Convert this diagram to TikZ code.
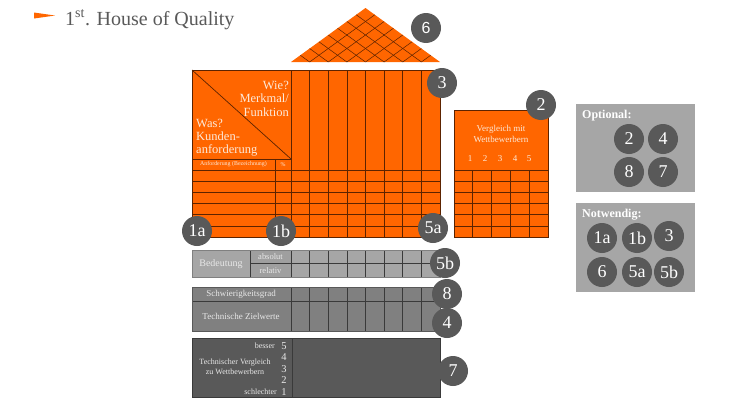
\documentclass[tikz,border=0pt]{standalone}
\usepackage{fontspec}
\setmainfont{Liberation Serif}
\newfontfamily\sansf{Liberation Sans}
\usetikzlibrary{calc}
\definecolor{hoqorange}{HTML}{FF6600}
\definecolor{hoqline}{HTML}{5C2300}
\definecolor{hoqtext}{HTML}{FDE9D9}
\definecolor{dgray}{HTML}{595959}
\definecolor{mgray}{HTML}{808080}
\definecolor{lgray}{HTML}{A6A6A6}
\definecolor{ggline}{HTML}{3A3A3A}
\definecolor{gtext}{HTML}{E8E8E8}
\begin{document}
\begin{tikzpicture}[x=1pt,y=-1pt,
  num/.style={circle, fill=dgray, text=white, minimum size=30pt, inner sep=0pt, font=\fontsize{18}{18}\selectfont},
  oline/.style={draw=hoqline, line width=0.7pt},
  gline/.style={draw=ggline, line width=0.6pt},
  otxt/.style={text=hoqtext, inner sep=0pt},
  gtx/.style={text=gtext, inner sep=0pt}]
\useasboundingbox (0,0) rectangle (750,415);

% title
\fill[hoqorange] (34,12.5) -- (55,15.5) -- (34,18.5) -- cycle;
\node[anchor=base west, inner sep=0pt, text=dgray, font=\fontsize{20}{20}\selectfont] (title) at (65,25) {1\textsuperscript{st}. House of Quality};

% roof
\coordinate (RA) at (291,62);
\coordinate (RB) at (440,62);
\coordinate (RC) at (365.5,8);
\fill[hoqorange] (RA) -- (RB) -- (RC) -- cycle;
\foreach \k in {1,...,7}{
  \pgfmathsetmacro\fa{\k/8}
  \pgfmathsetmacro\fb{(8-\k)/8}
  \draw[oline, line width=0.5pt] ($(RA)!\fa!(RB)$) -- ($(RB)!\fb!(RC)$);
  \draw[oline, line width=0.5pt] ($(RA)!\fa!(RB)$) -- ($(RA)!\fa!(RC)$);
}

% main block
\fill[hoqorange] (192,70) rectangle (440,237);
\foreach \k in {0,...,7}{
  \draw[oline] ({291+18.625*\k},70) -- ({291+18.625*\k},237);
}
\foreach \k in {0,...,5}{
  \draw[oline] (192,{170+11.17*\k}) -- (440,{170+11.17*\k});
}
\draw[oline] (192,159) -- (291,159);
\draw[oline] (275,159) -- (275,237);
\draw[oline] (192,70) -- (291,159);
\draw[oline] (192,70) rectangle (440,237);

\node[otxt, anchor=base east, font=\fontsize{12.5}{13}\selectfont] (wie1) at (289,89.5) {Wie?};
\node[otxt, anchor=base east, font=\fontsize{12.5}{13}\selectfont] (wie2) at (289,102.5) {Merkmal/};
\node[otxt, anchor=base east, font=\fontsize{12.5}{13}\selectfont] (wie3) at (289,116) {Funktion};
\node[otxt, anchor=base west, font=\fontsize{12.5}{13}\selectfont] (was1) at (196,127.5) {Was?};
\node[otxt, anchor=base west, font=\fontsize{12.5}{13}\selectfont] (was2) at (196,140.5) {Kunden-};
\node[otxt, anchor=base west, font=\fontsize{12.5}{13}\selectfont] (was3) at (196,153.5) {anforderung};
\node[otxt, font=\fontsize{5.9}{6}\selectfont] (anf) at (233.5,164.5) {Anforderung (Bezeichnung)};
\node[otxt, font=\fontsize{5.9}{6}\selectfont] (pct) at (283,164.5) {\%};

% comparison block
\fill[hoqorange] (454,110) rectangle (548,237);
\foreach \k in {1,...,4}{
  \draw[oline] ({454+18.8*\k},170) -- ({454+18.8*\k},237);
}
\foreach \k in {0,...,5}{
  \draw[oline] (454,{170+11.17*\k}) -- (548,{170+11.17*\k});
}
\draw[oline] (454,110) rectangle (548,237);
\node[otxt, font=\fontsize{9}{9}\selectfont] (vgl1) at (501,129) {Vergleich mit};
\node[otxt, font=\fontsize{9}{9}\selectfont] (vgl2) at (501,139.5) {Wettbewerbern};
\foreach \n/\x in {1/470,2/485,3/500,4/515,5/529}{
  \node[otxt, font=\fontsize{9}{9}\selectfont] (v\n) at (\x,159) {\n};
}

% Bedeutung block
\fill[lgray] (192,250) rectangle (440,277);
\fill[gray!75] (250,250) rectangle (291,277);
\draw[gline] (250,250) -- (250,277);
\draw[gline] (250,263.5) -- (440,263.5);
\foreach \k in {0,...,7}{
  \draw[gline] ({291+18.625*\k},250) -- ({291+18.625*\k},277);
}
\draw[draw=mgray, line width=0.7pt] (192,250) rectangle (440,277);
\node[gtx, font=\fontsize{10}{10}\selectfont] (bed) at (221,264) {Bedeutung};
\node[gtx, font=\fontsize{8.5}{9}\selectfont] (abs) at (270.5,257) {absolut};
\node[gtx, font=\fontsize{8.5}{9}\selectfont] (rel) at (270.5,271) {relativ};

% Schwierigkeitsgrad / Zielwerte block
\fill[mgray] (192,287) rectangle (440,331);
\draw[gline] (192,301) -- (440,301);
\foreach \k in {0,...,7}{
  \draw[gline] ({291+18.625*\k},287) -- ({291+18.625*\k},331);
}
\draw[draw=dgray, line width=0.7pt] (192,287) rectangle (440,331);
\node[gtx, font=\fontsize{9}{9}\selectfont] (sch) at (241,294.5) {Schwierigkeitsgrad};
\node[gtx, font=\fontsize{9}{9}\selectfont] (ziel) at (241,316) {Technische Zielwerte};

% Technischer Vergleich block
\fill[dgray] (192,338) rectangle (440,397);
\draw[gline] (292,338) -- (292,397);
\draw[draw=ggline, line width=0.7pt] (192,338) rectangle (440,397);
\node[gtx, anchor=base east, font=\fontsize{8}{8}\selectfont] (bes) at (275,348.5) {besser};
\node[gtx, anchor=base east, font=\fontsize{8}{8}\selectfont] (sle) at (277,394.5) {schlechter};
\node[gtx, font=\fontsize{8}{8}\selectfont] (tv1) at (235,363) {Technischer Vergleich};
\node[gtx, font=\fontsize{8}{8}\selectfont] (tv2) at (235,372) {zu Wettbewerbern};
\foreach \n/\y in {5/346,4/357.5,3/369,2/380.5,1/392}{
  \node[gtx, font=\fontsize{10.5}{10}\selectfont] (d\n) at (284,\y) {\n};
}

% numbered circles
\node[num] (c6) at (426,28) {\sansf\fontsize{16}{16}\selectfont 6};
\node[num] (c3) at (442,83) {3};
\node[num] (c2) at (541,105) {2};
\node[num] (c1a) at (197,231) {1a};
\node[num] (c1b) at (281,231) {1b};
\node[num] (c5a) at (433,228) {5a};
\node[num] (c5b) at (445,263) {5b};
\node[num] (c8) at (447,294) {8};
\node[num] (c4) at (447,323) {4};
\node[num] (c7) at (453,371) {7};

% right panel
\fill[lgray] (576,104) rectangle (695,192);
\node[anchor=base west, inner sep=0pt, text=white, font=\bfseries\fontsize{12}{12}\selectfont] (opt) at (582,118) {Optional:};
\node[num] (o2) at (629,139) {2};
\node[num] (o4) at (663,139) {4};
\node[num] (o8) at (629,172) {8};
\node[num] (o7) at (663,172) {7};

\fill[lgray] (576,203) rectangle (695,292);
\node[anchor=base west, inner sep=0pt, text=white, font=\bfseries\fontsize{12}{12}\selectfont] (notw) at (582,217) {Notwendig:};
\node[num] (n1a) at (602,238) {1a};
\node[num] (n1b) at (637,238) {1b};
\node[num] (n3) at (669,236) {3};
\node[num] (n6) at (602,272) {6};
\node[num] (n5a) at (637,272) {5a};
\node[num] (n5b) at (669,272) {5b};
\end{tikzpicture}
\end{document}
